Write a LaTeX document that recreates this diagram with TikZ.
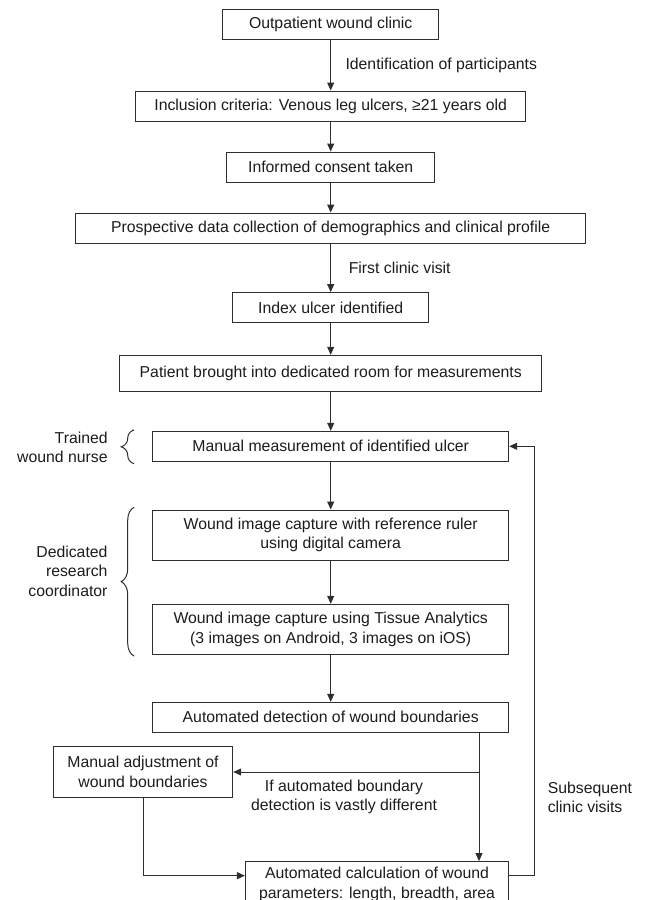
\documentclass[tikz,border=0pt]{standalone}
\usepackage{fontspec}
\setmainfont{Liberation Sans}
\usepackage{tikz}
\usetikzlibrary{arrows.meta, positioning, calc, decorations.pathreplacing}

\definecolor{linegray}{HTML}{2E2E2E}
\definecolor{textgray}{HTML}{1C1C1C}

\begin{document}
\begin{tikzpicture}[
            x = 1pt, y = -1pt, % pixel-like units, y runs downwards
            > = {Triangle[length=8pt, width=7pt]}, % arrow head style
            line width = 1pt,
            draw = linegray,
            every node/.style = {font=\fontsize{15.8}{19.5}\selectfont, text=textgray},
            box/.style = {draw = linegray, align = center, inner sep = 2pt, minimum height = 30pt},
            lbl/.style = {inner sep = 0pt},
            curly/.style = {decorate, decoration = {brace, amplitude = 13pt}}
        ]

        \useasboundingbox (0,0) rectangle (649,900);

        % main column
        \node[box, minimum width=216pt] (clinic) at (330.7,24.3) {Outpatient wound clinic};
        \node[box, minimum width=390pt, below=50.7pt of clinic] (inclusion) {Inclusion criteria: Venous leg ulcers, ≥21 years old};
        \node[box, minimum width=208pt, below=30pt of inclusion] (consent) {Informed consent taken};
        \node[box, minimum width=510pt, below=30pt of consent] (profile) {Prospective data collection of demographics and clinical profile};
        \node[box, minimum width=196pt, below=48.6pt of profile] (index) {Index ulcer identified};
        \node[box, minimum width=421.7pt, minimum height=36pt, below=31.7pt of index] (room) {Patient brought into dedicated room for measurements};
        \node[box, minimum width=356pt, below=39pt of room] (measure) {Manual measurement of identified ulcer};
        \node[box, minimum width=356pt, minimum height=50pt, below=47.7pt of measure] (ruler) {Wound image capture with reference ruler\\using digital camera};
        \node[box, minimum width=356pt, minimum height=50pt, below=43.3pt of ruler] (tissue) {Wound image capture using Tissue Analytics\\(3 images on Android, 3 images on iOS)};
        \node[box, minimum width=356pt, below=47pt of tissue] (detect) {Automated detection of wound boundaries};
        \node[box, minimum width=263.3pt, minimum height=50pt, text depth=8pt, below=128.3pt of detect.south east, anchor=north east] (calcbox) {Automated calculation of wound\\parameters: length, breadth, area};

        % side branch
        \node[box, minimum width=179.4pt, minimum height=50.6pt] (adjust) at (143,772) {Manual adjustment of\\wound boundaries};
        \coordinate (split) at (479,772);

        \draw[->] (clinic) -- node[lbl, right=14.3pt] {Identification of participants} (inclusion);
        \draw[->] (inclusion) -- (consent);
        \draw[->] (consent) -- (profile);
        \draw[->] (profile) -- node[lbl, right=17.6pt] {First clinic visit} (index);
        \draw[->] (index) -- (room);
        \draw[->] (room) -- (measure);
        \draw[->] (measure) -- (ruler);
        \draw[->] (ruler) -- (tissue);
        \draw[->] (tissue) -- (detect);

        \draw[->] (detect.south -| split) -- (calcbox.north -| split);
        \draw[->] (split) -- (adjust.east);
        \draw[->] (adjust.south) |- (calcbox.west |- 0,875.7);
        \draw[->] (calcbox.east |- 0,875.7) -- ++(25.3,0) |- (measure.east);

        \node[lbl, align=center] (ifdiff) at (344,796.7) {If automated boundary\\detection is vastly different};
        \node[lbl, align=left, anchor=west] (subsequent) at (547.3,797.3) {Subsequent\\clinic visits};

        % staff braces
        \draw[curly] ($(measure.south west)+(-18,2)$) -- ($(measure.north west)+(-18,-1)$);
        \node[lbl, align=right, anchor=east] (nurse) at ($(measure.west)+(-44,1)$) {Trained\\wound nurse};
        \draw[curly] ($(tissue.south west)+(-18,1.3)$) -- ($(ruler.north west)+(-18,-2.3)$);
        \node[lbl, align=right, anchor=east] (coordinator) at (108,571) {Dedicated\\research\\coordinator};

  \end{tikzpicture}
\end{document}
